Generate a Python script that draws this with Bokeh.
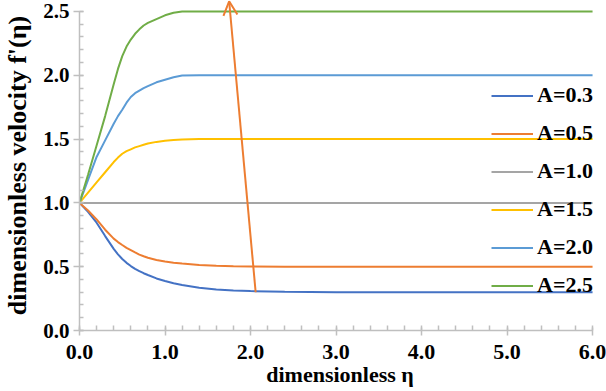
from bokeh.plotting import figure
from bokeh.models import (Legend, LegendItem, Arrow, OpenHead, SingleIntervalTicker,
                          PrintfTickFormatter, Range1d)
from bokeh.embed import file_html
from bokeh.resources import INLINE

# ---- data ----
eta = [0, 0.1, 0.2, 0.3, 0.4, 0.45, 0.5, 0.55, 0.6, 0.65, 0.7, 0.75, 0.8, 0.9, 1.0, 1.1, 1.2,
       1.4, 1.6, 1.8, 2.0, 2.4, 3.0, 4.0, 5.0, 6.0]
f_a03 = [1.0, 0.93, 0.845, 0.74, 0.64, 0.597, 0.56, 0.53, 0.505, 0.483, 0.465, 0.449, 0.435,
         0.408, 0.388, 0.371, 0.357, 0.335, 0.322, 0.314, 0.309, 0.303, 0.30, 0.30, 0.30, 0.30]
f_a05 = [1.0, 0.94, 0.87, 0.79, 0.72, 0.693, 0.67, 0.648, 0.63, 0.612, 0.595, 0.582, 0.57,
         0.553, 0.54, 0.531, 0.525, 0.514, 0.508, 0.504, 0.502, 0.50, 0.50, 0.50, 0.50, 0.50]
f_a10 = [1.0] * 26
f_a15 = [1.0, 1.08, 1.16, 1.24, 1.32, 1.355, 1.385, 1.405, 1.42, 1.435, 1.445, 1.455, 1.465,
         1.478, 1.487, 1.493, 1.497, 1.50, 1.50, 1.50, 1.50, 1.50, 1.50, 1.50, 1.50, 1.50]
f_a20 = [1.0, 1.18, 1.36, 1.49, 1.62, 1.68, 1.73, 1.785, 1.83, 1.86, 1.88, 1.90, 1.915,
         1.945, 1.965, 1.985, 1.998, 2.0, 2.0, 2.0, 2.0, 2.0, 2.0, 2.0, 2.0, 2.0]
f_a25 = [1.0, 1.22, 1.45, 1.68, 1.93, 2.05, 2.15, 2.225, 2.28, 2.325, 2.36, 2.39, 2.41,
         2.44, 2.47, 2.49, 2.50, 2.5, 2.5, 2.5, 2.5, 2.5, 2.5, 2.5, 2.5, 2.5]
labels = ["A=0.3", "A=0.5", "A=1.0", "A=1.5", "A=2.0", "A=2.5"]
series = [f_a03, f_a05, f_a10, f_a15, f_a20, f_a25]
colors = ["#4472C4", "#ED7D31", "#A5A5A5", "#FFC000", "#5B9BD5", "#70AD47"]
arrow_start = (2.06, 0.30)
arrow_end = (1.75, 2.58)

FONT = "Liberation Serif"

p = figure(width=606, height=391, output_backend="svg", toolbar_location=None,
           x_range=Range1d(0, 6.093), y_range=Range1d(0, 2.586),
           min_border_left=77, min_border_right=6, min_border_top=0, min_border_bottom=61)
p.outline_line_color = None
p.xgrid.visible = False
p.ygrid.visible = False
p.background_fill_color = "white"

renderers = []
for ys, c in zip(series, colors):
    r = p.line(eta, ys, line_color=c, line_width=2)
    renderers.append(r)

p.add_layout(Arrow(end=OpenHead(size=14, line_color="#ED7D31", line_width=2),
                   x_start=arrow_start[0], y_start=arrow_start[1],
                   x_end=arrow_end[0], y_end=arrow_end[1],
                   line_color="#ED7D31", line_width=2))

axc = "#BFBFBF"
xa = p.xaxis[0]
xa.ticker = SingleIntervalTicker(interval=1, num_minor_ticks=5)
xa.formatter = PrintfTickFormatter(format="%.1f")
xa.bounds = (0, 6)
xa.axis_line_color = axc
xa.axis_line_width = 1.5
xa.major_tick_line_color = axc
xa.minor_tick_line_color = axc
xa.major_tick_line_width = 1.5
xa.minor_tick_line_width = 1.5
xa.major_tick_in = 3
xa.major_tick_out = 5
xa.minor_tick_in = 5
xa.minor_tick_out = 0
xa.major_label_text_font = FONT
xa.major_label_text_font_style = "bold"
xa.major_label_text_font_size = "22px"
xa.major_label_text_color = "black"
xa.major_label_standoff = 9
xa.axis_label = "dimensionless η"
xa.axis_label_text_font = FONT
xa.axis_label_text_font_style = "bold"
xa.axis_label_text_font_size = "22px"
xa.axis_label_text_color = "black"
xa.axis_label_standoff = 0

ya = p.yaxis[0]
ya.ticker = SingleIntervalTicker(interval=0.5, num_minor_ticks=5)
ya.formatter = PrintfTickFormatter(format="%.1f")
ya.bounds = (0, 2.5)
ya.axis_line_color = axc
ya.axis_line_width = 1.5
ya.major_tick_line_color = axc
ya.minor_tick_line_color = axc
ya.major_tick_line_width = 1.5
ya.minor_tick_line_width = 1.5
ya.major_tick_in = 4
ya.major_tick_out = 6
ya.minor_tick_in = 4
ya.minor_tick_out = 0
ya.major_label_text_font = FONT
ya.major_label_text_font_style = "bold"
ya.major_label_text_font_size = "21px"
ya.major_label_text_color = "black"
ya.major_label_standoff = 4
ya.axis_label = "dimensionless velocity f'(η)"
ya.axis_label_text_font = FONT
ya.axis_label_text_font_style = "bold"
ya.axis_label_text_font_size = "26px"
ya.axis_label_text_color = "black"
ya.axis_label_standoff = 8

legend = Legend(items=[LegendItem(label=l, renderers=[r]) for l, r in zip(labels, renderers)],
                location=(412, 32), orientation="vertical",
                glyph_width=42, glyph_height=25, label_height=25, label_standoff=4,
                spacing=12, padding=0, margin=0,
                border_line_color=None, background_fill_alpha=0,
                label_text_font=FONT, label_text_font_style="bold",
                label_text_font_size="22px", label_text_color="black")
p.add_layout(legend, "center")

open("out.html", "w").write(file_html(p, INLINE))
